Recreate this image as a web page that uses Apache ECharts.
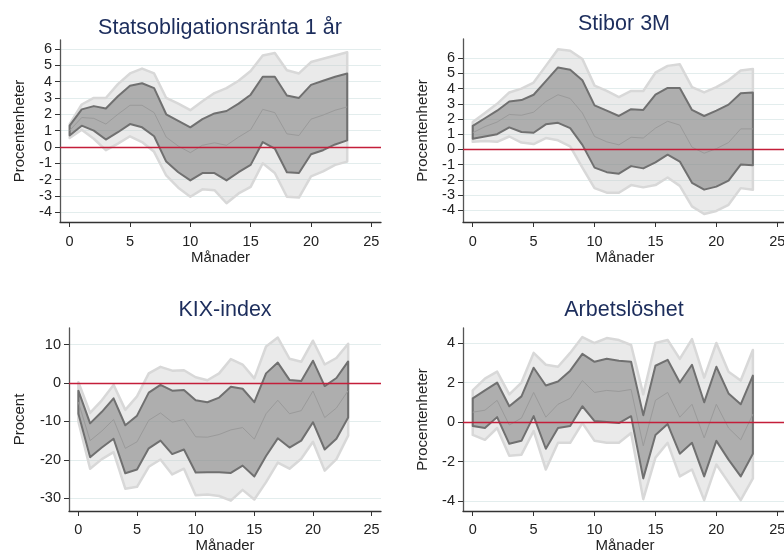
<!DOCTYPE html>
<html>
<head>
<meta charset="utf-8">
<script src="https://cdn.jsdelivr.net/npm/echarts@6/dist/echarts.min.js"></script>
<style>
  html, body { margin: 0; padding: 0; background: #fff; }
  #chart { width: 784px; height: 550px; }
</style>
</head>
<body>
<div id="chart"></div>
<script>
// Månader 0..23
var months = [0, 1, 2, 3, 4, 5, 6, 7, 8, 9, 10, 11, 12, 13, 14, 15, 16, 17, 18, 19, 20, 21, 22, 23];
var xTicks = [0, 5, 10, 15, 20, 25];

// Statsobligationsränta 1 år
var rantaOuterLo = [0.55, 1.05, 0.5, -0.2, 0.2, 0.65, 0.3, -0.3, -1.75, -2.5, -3.05, -2.6, -2.65, -3.45, -2.85, -2.45, -1.0, -1.6, -3.05, -3.1, -1.8, -1.5, -1.1, -0.9];
var rantaInnerLo = [0.7, 1.3, 1.0, 0.45, 0.9, 1.4, 1.2, 0.65, -0.9, -1.55, -2.05, -1.6, -1.6, -2.05, -1.55, -1.1, 0.3, -0.1, -1.55, -1.6, -0.45, -0.2, 0.15, 0.4];
var rantaMedian = [1.0, 1.8, 1.75, 1.4, 2.0, 2.55, 2.55, 2.1, 0.6, 0.05, -0.35, 0.1, 0.25, 0.1, 0.6, 1.05, 2.3, 2.1, 0.8, 0.7, 1.7, 1.95, 2.25, 2.45];
var rantaInnerHi = [1.3, 2.3, 2.5, 2.35, 3.1, 3.75, 3.9, 3.6, 2.0, 1.6, 1.2, 1.7, 2.05, 2.2, 2.65, 3.2, 4.3, 4.3, 3.15, 3.0, 3.8, 4.05, 4.3, 4.5];
var rantaOuterHi = [1.4, 2.6, 3.0, 3.0, 3.85, 4.5, 4.8, 4.5, 3.0, 2.65, 2.25, 2.8, 3.3, 3.6, 4.05, 4.65, 5.6, 5.75, 4.7, 4.5, 5.2, 5.4, 5.6, 5.8];
var rantaTicks = [-4, -3, -2, -1, 0, 1, 2, 3, 4, 5, 6];

// Stibor 3M
var stiborOuterLo = [0.5, 0.55, 0.5, 0.85, 0.45, 0.35, 0.75, 0.6, 0.2, -1.2, -2.55, -2.85, -2.85, -2.35, -2.5, -2.35, -1.85, -2.4, -3.75, -4.25, -4.05, -3.65, -2.55, -2.65];
var stiborInnerLo = [0.7, 0.85, 1.0, 1.45, 1.15, 1.1, 1.65, 1.75, 1.4, 0.3, -1.2, -1.5, -1.6, -1.1, -1.25, -0.85, -0.35, -0.8, -2.2, -2.65, -2.45, -2.05, -1.0, -1.05];
var stiborMedian = [1.1, 1.5, 1.8, 2.3, 2.25, 2.45, 3.15, 3.6, 3.35, 2.4, 0.85, 0.5, 0.3, 0.8, 0.75, 1.4, 1.85, 1.6, 0.15, -0.25, 0.05, 0.45, 1.35, 1.35];
var stiborInnerHi = [1.55, 2.05, 2.55, 3.15, 3.25, 3.6, 4.5, 5.4, 5.25, 4.55, 2.9, 2.55, 2.2, 2.65, 2.6, 3.6, 4.05, 4.05, 2.6, 2.2, 2.55, 2.95, 3.7, 3.75];
var stiborOuterHi = [1.8, 2.4, 3.0, 3.75, 4.0, 4.4, 5.5, 6.6, 6.5, 5.95, 4.2, 3.85, 3.45, 3.85, 3.85, 5.05, 5.5, 5.6, 4.1, 3.75, 4.1, 4.55, 5.2, 5.3];
var stiborTicks = [-4, -3, -2, -1, 0, 1, 2, 3, 4, 5, 6];

// KIX-index
var kixOuterLo = [-10, -22.3, -19.8, -18, -27.5, -27, -21.8, -19.9, -23.8, -22.3, -29.2, -29, -29.4, -30.6, -27.8, -30.3, -25.8, -20.7, -22.3, -19.7, -15.3, -22.8, -19.8, -13.7];
var kixInnerLo = [-8, -19.3, -16.8, -14.5, -23.5, -22.5, -17, -15, -18.5, -17.3, -23.3, -23.2, -23.2, -23.4, -21.5, -24.3, -19, -14.4, -16.8, -15, -10.2, -17.3, -14.5, -9];
var kixMedian = [-5, -15, -12.5, -9.5, -17, -15.3, -9.7, -7.8, -10.2, -9.5, -14, -14.1, -13.4, -12.2, -11.6, -14.6, -8, -4.5, -8, -7.2, -2.1, -9, -6.5, -2];
var kixInnerHi = [-2, -10.5, -7.5, -4, -11, -8.5, -2.5, -0.5, -2, -1.8, -4.5, -5, -3.8, -1, -1.5, -5, 2.5, 5.3, 0.8, 0.5, 5.8, -0.8, 1.3, 5.6];
var kixOuterHi = [0.2, -7.8, -4.5, -0.5, -7, -3.5, 2.5, 4.2, 3.2, 3.3, 1.5, 0.7, 2.5, 6.2, 4.8, 1.2, 9.5, 11.8, 6.3, 5.5, 11, 4.8, 6.5, 10.2];
var kixTicks = [-30, -20, -10, 0, 10];

// Arbetslöshet
var arbOuterLo = [-0.65, -0.9, -0.3, -1.7, -1.65, -0.45, -2.4, -1.05, -1.05, -0.05, -0.95, -1.05, -1.05, -0.55, -3.9, -1.8, -1.05, -2.75, -2.4, -3.95, -2.15, -3.05, -3.95, -2.85];
var arbInnerLo = [-0.2, -0.3, 0.25, -1.1, -0.95, 0.3, -1.35, -0.3, -0.2, 0.8, 0.05, 0.0, -0.05, 0.3, -2.85, -0.65, -0.1, -1.6, -1.05, -2.75, -0.95, -1.9, -2.75, -1.6];
var arbMedian = [0.5, 0.6, 1.1, -0.15, 0.2, 1.5, 0.25, 0.9, 1.2, 2.1, 1.5, 1.6, 1.55, 1.65, -1.2, 1.1, 1.5, 0.25, 0.9, -0.8, 0.9, -0.3, -0.9, 0.4];
var arbInnerHi = [1.2, 1.6, 2.0, 0.8, 1.3, 2.75, 1.85, 2.05, 2.6, 3.45, 3.05, 3.2, 3.1, 3.05, 0.35, 2.85, 3.15, 2.0, 2.9, 1.0, 2.8, 1.45, 0.9, 2.35];
var arbOuterHi = [1.6, 2.2, 2.55, 1.4, 2.0, 3.5, 2.9, 2.8, 3.5, 4.3, 4.0, 4.25, 4.15, 3.9, 1.4, 4.0, 4.15, 3.2, 4.2, 2.25, 4.0, 2.55, 2.1, 3.65];
var arbTicks = [-4, -2, 0, 2, 4];

var FONT = "'Liberation Sans', Arial, sans-serif";

// paneler: titel, y-namn, data och layout
var panels = [
  { title: 'Statsobligationsränta 1 år', yName: 'Procentenheter', titleX: 220, titleY: 17,
    grid: { left: 60, top: 40, width: 321, height: 182 }, yMin: -4.6, yMax: 6.55, yTicks: rantaTicks,
    nameGap: 33, xLabelMargin: 12, xNameGap: 27,
    outerLo: rantaOuterLo, innerLo: rantaInnerLo, median: rantaMedian, innerHi: rantaInnerHi, outerHi: rantaOuterHi },
  { title: 'Stibor 3M', yName: 'Procentenheter', titleX: 624, titleY: 13,
    grid: { left: 463, top: 39, width: 324, height: 183 }, yMin: -4.78, yMax: 7.27, yTicks: stiborTicks,
    nameGap: 33, xLabelMargin: 12, xNameGap: 27,
    outerLo: stiborOuterLo, innerLo: stiborInnerLo, median: stiborMedian, innerHi: stiborInnerHi, outerHi: stiborOuterHi },
  { title: 'KIX-index', yName: 'Procent', titleX: 225, titleY: 299,
    grid: { left: 69, top: 328, width: 312, height: 183 }, yMin: -33.3, yMax: 14.3, yTicks: kixTicks,
    nameGap: 42, xLabelMargin: 11.5, xNameGap: 24,
    outerLo: kixOuterLo, innerLo: kixInnerLo, median: kixMedian, innerHi: kixInnerHi, outerHi: kixOuterHi },
  { title: 'Arbetslöshet', yName: 'Procentenheter', titleX: 624, titleY: 299,
    grid: { left: 463, top: 328, width: 324, height: 183 }, yMin: -4.5, yMax: 4.76, yTicks: arbTicks,
    nameGap: 33, xLabelMargin: 11.5, xNameGap: 24,
    outerLo: arbOuterLo, innerLo: arbInnerLo, median: arbMedian, innerHi: arbInnerHi, outerHi: arbOuterHi }
];

// band som polygon: övre kant framåt, nedre kant bakåt
function bandSeries(idx, lo, hi, fill, stroke, width, z) {
  return {
    type: 'custom',
    xAxisIndex: idx,
    yAxisIndex: idx,
    z: z,
    silent: true,
    data: [0],
    renderItem: function (params, api) {
      var pts = [];
      for (var i = 0; i < months.length; i++) pts.push(api.coord([months[i], hi[i]]));
      for (var j = months.length - 1; j >= 0; j--) pts.push(api.coord([months[j], lo[j]]));
      return {
        type: 'polygon',
        shape: { points: pts },
        style: { fill: fill, stroke: stroke, lineWidth: width, lineJoin: 'round' }
      };
    }
  };
}

var option = {
  animation: false,
  backgroundColor: '#fff',
  title: [],
  grid: [],
  xAxis: [],
  yAxis: [],
  series: []
};

panels.forEach(function (p, idx) {
  option.title.push({
    text: p.title,
    left: p.titleX,
    top: p.titleY,
    padding: 0,
    textAlign: 'center',
    textStyle: { fontFamily: FONT, fontSize: 21.5, fontWeight: 'normal', color: '#1c2d5c' }
  });
  option.grid.push(Object.assign({ containLabel: false, outerBoundsMode: 'none' }, p.grid));
  option.xAxis.push({
    type: 'value',
    gridIndex: idx,
    min: -0.8,
    max: 25.8,
    name: 'Månader',
    nameLocation: 'middle',
    nameGap: p.xNameGap,
    nameTextStyle: { fontFamily: FONT, fontSize: 15, color: '#222' },
    axisLine: { show: true, onZero: false, lineStyle: { color: '#333', width: 1.3 } },
    axisTick: { show: true, length: 5, customValues: xTicks, lineStyle: { color: '#333' } },
    axisLabel: { customValues: xTicks, margin: p.xLabelMargin, fontFamily: FONT, fontSize: 14.5, color: '#222' },
    splitLine: { show: false }
  });
  option.yAxis.push({
    type: 'value',
    gridIndex: idx,
    min: p.yMin,
    max: p.yMax,
    name: p.yName,
    nameLocation: 'middle',
    nameGap: p.nameGap,
    nameTextStyle: { fontFamily: FONT, fontSize: 15, color: '#222' },
    axisLine: { show: true, onZero: false, lineStyle: { color: '#555', width: 1.3 } },
    axisTick: { show: true, length: 5, customValues: p.yTicks, lineStyle: { color: '#333' } },
    axisLabel: { customValues: p.yTicks, margin: 8, fontFamily: FONT, fontSize: 14.5, color: '#222' },
    splitLine: { show: true, lineStyle: { color: '#e3eded', width: 1 } }
  });
  option.series.push(bandSeries(idx, p.outerLo, p.outerHi, 'rgba(200,200,200,0.38)', '#d8d8d8', 2.5, 2));
  option.series.push(bandSeries(idx, p.innerLo, p.innerHi, 'rgba(118,118,118,0.52)', '#707070', 2, 3));
  option.series.push({
    type: 'line',
    xAxisIndex: idx,
    yAxisIndex: idx,
    z: 4,
    data: months.map(function (m, i) { return [m, p.median[i]]; }),
    symbol: 'none',
    silent: true,
    lineStyle: { color: '#9a9a9a', width: 1 },
    markLine: {
      silent: true,
      symbol: 'none',
      label: { show: false },
      lineStyle: { color: '#c41e3a', width: 1.3, type: 'solid' },
      data: [{ yAxis: 0 }]
    }
  });
});

var chart = echarts.init(document.getElementById('chart'));
chart.setOption(option);
</script>
</body>
</html>
